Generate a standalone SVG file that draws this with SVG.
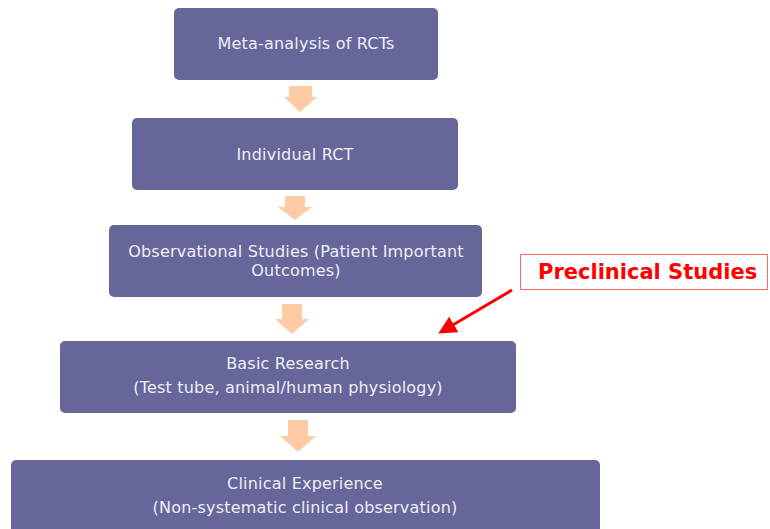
<svg xmlns="http://www.w3.org/2000/svg" width="770" height="529" viewBox="0 0 770 529">
<defs>
<style>
.box{fill:#67669A;}
.t{font-family:"DejaVu Sans",Verdana,sans-serif;font-size:16px;letter-spacing:0.2px;fill:#EEEEF4;text-anchor:middle;}
.ba{fill:#FFCBA4;}
</style>
<marker id="rh" markerWidth="6" markerHeight="6" refX="3" refY="3" orient="auto" markerUnits="strokeWidth">
<path d="M0,0 L6,3 L0,6 Z" fill="#FF0000"/>
</marker>
</defs>
<rect width="770" height="529" fill="#FFFFFF"/>
<g id="connectors">
<polygon class="ba" points="289,86 312,86 312,97 317,97 300,112 284,97 289,97"/>
<polygon class="ba" points="285,196 305,196 305,207 312,207 295,220 278,207 285,207"/>
<polygon class="ba" points="282,304 302,304 302,319 309,319 292,334 275,319 282,319"/>
<polygon class="ba" points="288,420 308,420 308,436 316,436 298,452 280,436 288,436"/>
<line x1="512" y1="290" x2="446" y2="329" stroke="#FF0000" stroke-width="3" marker-end="url(#rh)"/>
</g>
<g id="meta">
<rect class="box" x="174" y="8" width="264" height="72" rx="5"/>
<text class="t" x="306" y="49">Meta-analysis of RCTs</text>
</g>
<g id="rct">
<rect class="box" x="132" y="118" width="326" height="72" rx="5"/>
<text class="t" x="295" y="160">Individual RCT</text>
</g>
<g id="observational">
<rect class="box" x="109" y="225" width="373" height="72" rx="5"/>
<text class="t" x="296" y="257">Observational Studies (Patient Important</text>
<text class="t" x="296" y="276">Outcomes)</text>
</g>
<g id="basic">
<rect class="box" x="60" y="341" width="456" height="72" rx="5"/>
<text class="t" x="288" y="369">Basic Research</text>
<text class="t" x="288" y="393">(Test tube, animal/human physiology)</text>
</g>
<g id="clinical">
<rect class="box" x="11" y="460" width="589" height="80" rx="5"/>
<text class="t" x="305" y="489">Clinical Experience</text>
<text class="t" x="305" y="513">(Non-systematic clinical observation)</text>
</g>
<g id="preclinical">
<rect x="520.5" y="254.5" width="247" height="35" fill="#FFFFFF" stroke="#FF6666" stroke-width="1"/>
<text x="538" y="279" font-family="'DejaVu Sans',Verdana,sans-serif" font-size="21" font-weight="bold" fill="#FF0000">Preclinical Studies</text>
</g>
</svg>
